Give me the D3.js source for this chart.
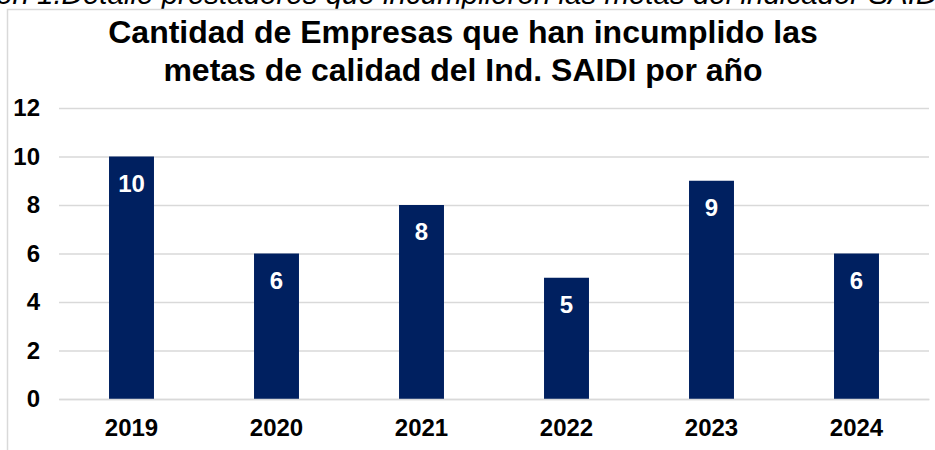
<!DOCTYPE html>
<html>
<head>
<meta charset="utf-8">
<script src="https://cdn.jsdelivr.net/npm/d3@7"></script>
<style>
  body { margin: 0; background: #fff; }
  svg { display: block; font-family: Arial, "Liberation Sans", sans-serif; }
</style>
</head>
<body>
<svg id="chart" width="935" height="450"></svg>
<script>
const years = ['2019', '2020', '2021', '2022', '2023', '2024'];
const empresas = [10, 6, 8, 5, 9, 6];
const yTicks = [0, 2, 4, 6, 8, 10, 12];
const titleLines = ['Cantidad de Empresas que han incumplido las', 'metas de calidad del Ind. SAIDI por año'];
const caption = 'Ilustración 1.Detalle prestadores que incumplieron las metas del indicador SAIDI';

const svg = d3.select('#chart');
const gridColor = '#d9d9d9';
const barColor = '#002060';

// caption cut off at the top of the picture
const cap = svg.append('text')
  .text(caption)
  .attr('y', 4)
  .style('font-style', 'italic')
  .style('font-size', '29.5px')
  .attr('fill', '#000');
// shift so that "ón 1.Detalle" begins at the left edge
const capNode = cap.node();
const startIdx = caption.indexOf('ón 1.');
const startX = capNode.getStartPositionOfChar(startIdx).x;
cap.attr('x', -startX - 4);

// frame
svg.append('path')
  .attr('d', d3.line()([[7.5, 450], [7.5, 9.5], [935, 9.5]]))
  .attr('fill', 'none')
  .attr('stroke', gridColor)
  .attr('stroke-width', 1.5);

// title
svg.append('g')
  .selectAll('text')
  .data(titleLines)
  .join('text')
  .text(d => d)
  .attr('x', 463)
  .attr('y', (d, i) => 43 + i * 38)
  .attr('text-anchor', 'middle')
  .style('font-weight', 'bold')
  .style('font-size', '32px');

const x = d3.scaleBand()
  .domain(years)
  .range([59, 929])
  .paddingInner(0.69)
  .paddingOuter(0.345);

const y = d3.scaleLinear()
  .domain([0, 12])
  .range([399, 108]);

// gridlines
const yAxis = svg.append('g')
  .attr('transform', 'translate(59,0)')
  .call(d3.axisLeft(y).tickValues(yTicks).tickSize(-870).tickPadding(19).tickFormat(d3.format('d')));
yAxis.select('.domain').remove();
yAxis.selectAll('line')
  .attr('stroke', gridColor)
  .attr('stroke-width', 1.5);
yAxis.selectAll('text')
  .attr('fill', '#000')
  .style('font-weight', 'bold')
  .style('font-size', '24px')
  .style('font-family', 'Arial, "Liberation Sans", sans-serif');

// bars
svg.append('g')
  .selectAll('rect')
  .data(empresas)
  .join('rect')
  .attr('x', (d, i) => x(years[i]))
  .attr('y', d => y(d))
  .attr('width', x.bandwidth())
  .attr('height', d => y(0) - y(d))
  .attr('fill', barColor);

// data labels
svg.append('g')
  .selectAll('text')
  .data(empresas)
  .join('text')
  .text(d => d)
  .attr('x', (d, i) => x(years[i]) + x.bandwidth() / 2)
  .attr('y', d => y(d) + 35)
  .attr('text-anchor', 'middle')
  .attr('fill', '#fff')
  .style('font-weight', 'bold')
  .style('font-size', '24px');

// x axis
const xAxis = svg.append('g')
  .attr('transform', 'translate(0,399)')
  .call(d3.axisBottom(x).tickSize(0).tickPadding(20));
xAxis.select('.domain')
  .attr('stroke', gridColor)
  .attr('stroke-width', 1.5);
xAxis.selectAll('text')
  .attr('fill', '#000')
  .style('font-weight', 'bold')
  .style('font-size', '24px')
  .style('font-family', 'Arial, "Liberation Sans", sans-serif');
</script>
</body>
</html>
